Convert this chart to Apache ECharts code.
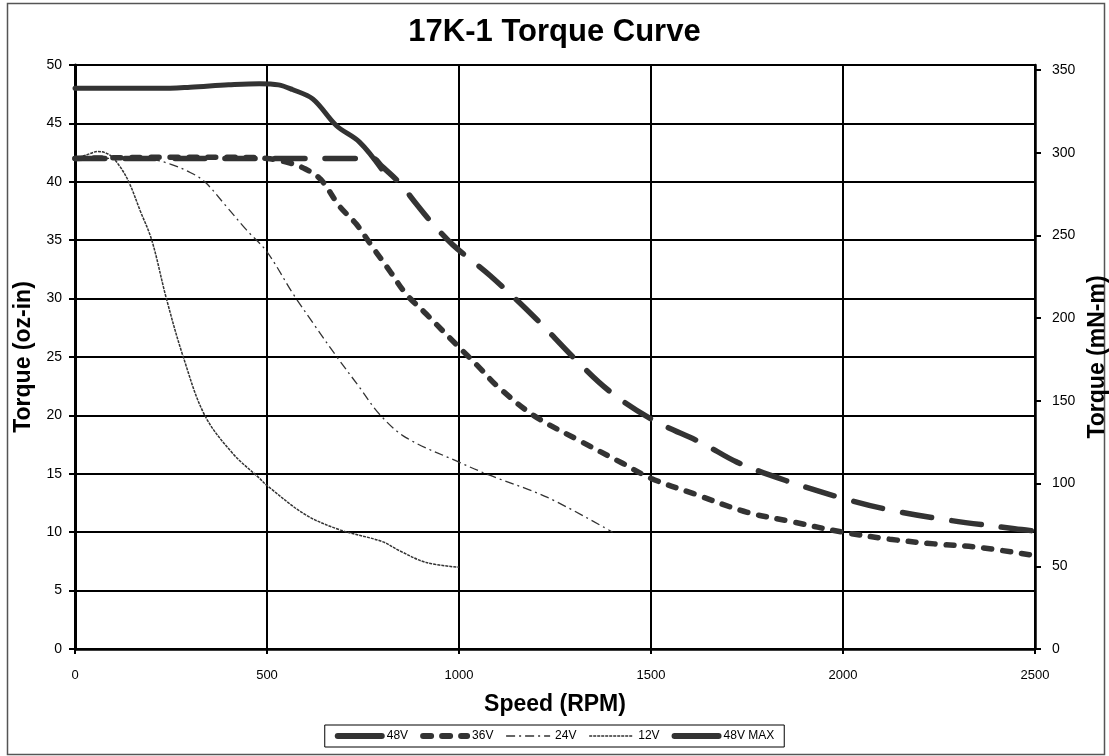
<!DOCTYPE html>
<html>
<head>
<meta charset="utf-8">
<script src="https://cdn.jsdelivr.net/npm/echarts@6/dist/echarts.min.js"></script>
<style>
html,body{margin:0;padding:0;background:#fff;}
#chart{width:1109px;height:756px;}
</style>
</head>
<body>
<div id="chart"></div>
<script>
// ---- Data (speed in RPM, torque in oz-in) ----
var title = '17K-1 Torque Curve';
var seriesNames = ['48V', '36V', '24V', '12V', '48V MAX'];

var speed48 = [0, 200, 400, 600, 700, 775, 800, 845, 889, 924, 984, 1080, 1200, 1300, 1391, 1500, 1635, 1724, 1853, 2000, 2122, 2261, 2447, 2500];
var torque48 = [42, 42, 42, 42, 42, 42, 41.3, 39.9, 38.1, 36.7, 34.6, 32.0, 28.3, 24.9, 22.1, 19.7, 17.6, 16.0, 14.4, 12.9, 11.9, 11.1, 10.3, 10.1];

var speed36 = [0, 250, 400, 500, 560, 600, 640, 689, 732, 775, 819, 862, 914, 992, 1050, 1100, 1194, 1310, 1426, 1501, 1611, 1751, 1867, 2000, 2122, 2238, 2354, 2500];
var torque36 = [42, 42.1, 42.1, 42, 41.6, 41.1, 40.2, 37.9, 36.4, 34.4, 32.4, 30.4, 28.7, 26.1, 24.2, 22.5, 20.0, 17.9, 15.9, 14.6, 13.3, 11.7, 10.9, 10.0, 9.4, 9.0, 8.7, 8.0];

var speed24 = [0, 100, 200, 250, 300, 338, 394, 446, 500, 568, 620, 680, 741, 793, 862, 1000, 1078, 1229, 1400];
var torque24 = [42, 42, 41.9, 41.5, 40.8, 40, 37.9, 35.9, 34, 30.4, 27.9, 25.1, 22.4, 20.1, 18.1, 16, 14.9, 13, 10];

var speed12 = [0, 30, 60, 90, 115, 140, 170, 200, 238, 282, 338, 412, 481, 500, 600, 690, 800, 846, 915, 1000];
var torque12 = [42, 42.3, 42.6, 42.3, 41.4, 40, 37.5, 35, 30, 25, 20, 16.7, 14.6, 14, 11.5, 10.2, 9.2, 8.4, 7.4, 7.0];

var speed48max = [0, 100, 220, 300, 400, 480, 530, 566, 619, 681, 741, 798];
var torque48max = [48, 48, 48, 48.1, 48.3, 48.4, 48.3, 47.9, 47.1, 44.8, 43.4, 41.1];

var xTicks = [0, 500, 1000, 1500, 2000, 2500];
var ozToMNm = 7.0615518;

function zip(xs, ys) {
  return xs.map(function (x, i) { return [x, ys[i]]; });
}

var chart = echarts.init(document.getElementById('chart'), null, { renderer: 'canvas' });
var FONT = '"Liberation Sans", Arial, sans-serif';
var C = '#333333';

var option = {
  backgroundColor: '#ffffff',
  animation: false,
  title: {
    text: title,
    left: 'center',
    top: 12,
    textStyle: { fontFamily: FONT, fontSize: 31, fontWeight: 'bold', color: '#000' }
  },
  grid: { left: 75, right: 74, top: 65, bottom: 107, containLabel: false, outerBoundsMode: 'none' },
  legend: {
    bottom: 9,
    left: 'center',
    data: [
      { name: '48V', lineStyle: { type: 'solid', width: 6 } },
      { name: '36V', lineStyle: { width: 6 } },
      { name: '24V' },
      { name: '12V' },
      { name: '48V MAX', lineStyle: { width: 6 } }
    ],
    itemWidth: 44,
    itemHeight: 14,
    itemGap: 12,
    padding: [5, 10, 5, 10],
    borderColor: '#000',
    borderWidth: 1,
    itemStyle: { opacity: 0 },
    lineStyle: { width: 'inherit' },
    textStyle: { fontFamily: FONT, fontSize: 12, color: '#000' }
  },
  xAxis: {
    type: 'value',
    min: 0, max: 2500, interval: 500,
    name: 'Speed (RPM)',
    nameLocation: 'middle',
    nameGap: 44,
    nameTextStyle: { fontFamily: FONT, fontSize: 23, fontWeight: 'bold', color: '#000' },
    axisLine: { show: true, onZero: false, lineStyle: { color: '#000', width: 2.5 } },
    axisTick: { show: true, inside: false, length: 5, lineStyle: { color: '#000', width: 2 } },
    axisLabel: { margin: 20, fontFamily: FONT, fontSize: 13, color: '#000',
      formatter: function (v) { return xTicks.indexOf(v) >= 0 ? String(v) : ''; } },
    splitLine: { show: true, lineStyle: { color: '#000', width: 2 } }
  },
  yAxis: [
    {
      type: 'value', position: 'left',
      min: 0, max: 50, interval: 5,
      name: 'Torque (oz-in)',
      nameLocation: 'middle',
      nameGap: 37,
      nameRotate: 90,
      nameTextStyle: { fontFamily: FONT, fontSize: 23, fontWeight: 'bold', color: '#000' },
      axisLine: { show: true, lineStyle: { color: '#000', width: 3 } },
      axisTick: { show: true, length: 6, lineStyle: { color: '#000', width: 2 } },
      axisLabel: { margin: 13, fontFamily: FONT, fontSize: 14, color: '#000' },
      splitLine: { show: true, lineStyle: { color: '#000', width: 2 } }
    },
    {
      type: 'value', position: 'right',
      min: 0, max: 50 * ozToMNm, interval: 50,
      name: 'Torque (mN-m)',
      nameLocation: 'middle',
      nameGap: 46,
      nameRotate: 90,
      nameTextStyle: { fontFamily: FONT, fontSize: 23, fontWeight: 'bold', color: '#000' },
      axisLine: { show: true, lineStyle: { color: '#000', width: 2.5 } },
      axisTick: { show: true, length: 6, lineStyle: { color: '#000', width: 2 },
        customValues: [0, 50, 100, 150, 200, 250, 300, 350] },
      axisLabel: { margin: 17, fontFamily: FONT, fontSize: 14, color: '#000',
        formatter: function (v) { return (Math.abs(v % 50) < 1e-6) ? String(v) : ''; } },
      splitLine: { show: false }
    }
  ],
  series: [
    {
      name: '48V', type: 'line', yAxisIndex: 0,
      data: zip(speed48, torque48),
      smooth: 0.35, showSymbol: false, symbol: 'none',
      lineStyle: { color: C, width: 5.5, type: [30, 20], cap: 'round' },
      itemStyle: { color: C }, z: 5
    },
    {
      name: '36V', type: 'line', yAxisIndex: 0,
      data: zip(speed36, torque36),
      smooth: 0.35, showSymbol: false, symbol: 'none',
      lineStyle: { color: C, width: 5.5, type: [8, 11], cap: 'round' },
      itemStyle: { color: C }, z: 5
    },
    {
      name: '24V', type: 'line', yAxisIndex: 0,
      data: zip(speed24, torque24),
      smooth: 0.35, showSymbol: false, symbol: 'none',
      lineStyle: { color: C, width: 1.3, type: [9, 4, 2, 4] },
      itemStyle: { color: C }, z: 4
    },
    {
      name: '12V', type: 'line', yAxisIndex: 0,
      data: zip(speed12, torque12),
      smooth: 0.35, showSymbol: false, symbol: 'none',
      lineStyle: { color: C, width: 1.5, type: [3, 1] },
      itemStyle: { color: C }, z: 4
    },
    {
      name: '48V MAX', type: 'line', yAxisIndex: 0,
      data: zip(speed48max, torque48max),
      smooth: 0.35, showSymbol: false, symbol: 'none',
      lineStyle: { color: C, width: 5, type: 'solid', cap: 'round' },
      itemStyle: { color: C }, z: 6
    }
  ],
  graphic: [
    {
      type: 'rect', silent: true, z: -1,
      shape: { x: 7.5, y: 3.5, width: 1097, height: 751 },
      style: { fill: 'none', stroke: '#555', lineWidth: 1.5 }
    }
  ]
};

chart.setOption(option);
</script>
</body>
</html>
